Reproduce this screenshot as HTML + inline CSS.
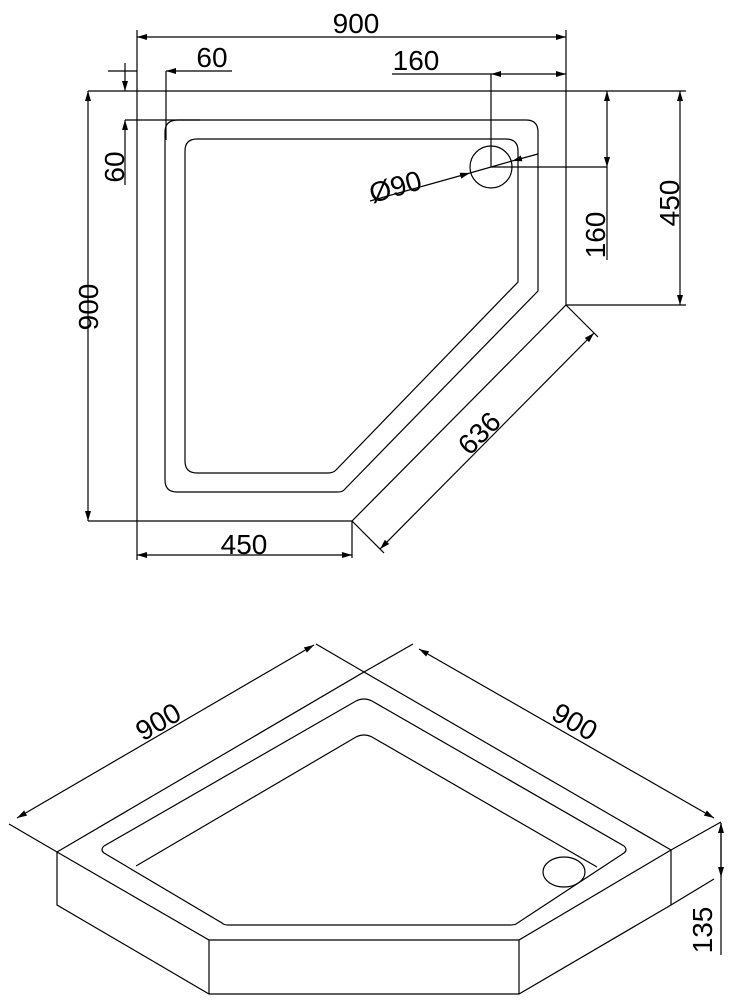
<!DOCTYPE html>
<html><head><meta charset="utf-8"><style>html,body{margin:0;padding:0;background:#fff}svg{display:block}</style></head>
<body>
<svg width="737" height="1000" viewBox="0 0 737 1000" xmlns="http://www.w3.org/2000/svg" font-family="Liberation Sans, sans-serif" font-size="28" fill="none" stroke="#000" stroke-width="1.2">
<defs>
<marker id="a" viewBox="0 0 10 6" refX="10" refY="3" markerWidth="10" markerHeight="6" orient="auto-start-reverse" markerUnits="userSpaceOnUse"><path d="M0,0 L10,3 L0,6z" fill="#000" stroke="none"/></marker>
</defs>
<!-- TOP VIEW -->
<line x1="137" y1="37" x2="566" y2="37" marker-start="url(#a)" marker-end="url(#a)"/>
<line x1="137" y1="30" x2="137" y2="560"/>
<line x1="566" y1="30" x2="566" y2="305"/>
<path d="M88 91 H686 M88 521 H352 L566 305 H686"/>
<line x1="88" y1="91" x2="88" y2="521" marker-start="url(#a)" marker-end="url(#a)"/>
<line x1="680" y1="91" x2="680" y2="305" marker-start="url(#a)" marker-end="url(#a)"/>
<!-- 60 dims -->
<line x1="232" y1="71" x2="166" y2="71" marker-end="url(#a)"/>
<line x1="108" y1="71" x2="137" y2="71"/>
<line x1="166" y1="71" x2="166" y2="140"/>
<line x1="125" y1="63" x2="125" y2="91" marker-end="url(#a)"/>
<line x1="125" y1="185" x2="125" y2="120" marker-end="url(#a)"/>
<line x1="125" y1="120" x2="200" y2="120"/>
<!-- rim -->
<path d="M178 120 H526 Q538 120 538 132 V291 L344 490 Q342 492 338 492 H177 Q165 492 165 480 V132 Q165 120 178 120Z"/>
<path d="M197 139 H506 Q518 139 518 151 V282 L336 470 Q333 473 328 473 H197 Q185 473 185 461 V151 Q185 139 197 139Z"/>
<ellipse cx="491" cy="167" rx="21" ry="21"/>
<!-- 160 dims -->
<line x1="491" y1="74" x2="491" y2="167"/>
<line x1="491" y1="167" x2="607" y2="167"/>
<line x1="392" y1="74" x2="491" y2="74"/>
<line x1="491" y1="74" x2="566" y2="74" marker-start="url(#a)" marker-end="url(#a)"/>
<line x1="607" y1="91" x2="607" y2="167" marker-start="url(#a)" marker-end="url(#a)"/>
<line x1="607" y1="167" x2="607" y2="260"/>
<!-- Ø90 -->
<line x1="370" y1="201" x2="470" y2="173" marker-end="url(#a)"/>
<line x1="538" y1="154" x2="512" y2="161" marker-end="url(#a)"/>
<line x1="470" y1="173" x2="512" y2="161"/>
<!-- 450 bottom -->
<line x1="352" y1="521" x2="352" y2="558"/>
<line x1="137" y1="555" x2="352" y2="555" marker-start="url(#a)" marker-end="url(#a)"/>
<!-- 636 -->
<line x1="566" y1="305" x2="598" y2="337"/>
<line x1="352" y1="521" x2="384" y2="553"/>
<line x1="594" y1="333" x2="380" y2="549" marker-start="url(#a)" marker-end="url(#a)"/>
<g fill="#000" stroke="none">
<text x="356" y="33" text-anchor="middle">900</text>
<text x="212" y="67" text-anchor="middle">60</text>
<text x="416" y="70" text-anchor="middle">160</text>
<text transform="translate(124,167) rotate(-90)" text-anchor="middle">60</text>
<text transform="translate(98,307) rotate(-90)" text-anchor="middle">900</text>
<text transform="translate(679,203) rotate(-90)" text-anchor="middle">450</text>
<text transform="translate(605,235) rotate(-90)" text-anchor="middle">160</text>
<text transform="translate(398,196) rotate(-16)" text-anchor="middle">Ø90</text>
<text x="244" y="554" text-anchor="middle">450</text>
<text transform="translate(486,440) rotate(-45)" text-anchor="middle">636</text>
</g>
<!-- ISO VIEW -->
<path d="M57 852 L364 672 L671 850 M57 852 V905 L209 994 H519 L671 905 V850 M57 852 L209 940 H519 L671 850 M209 940 V994 M519 940 V994"/>
<path d="M364 672 L316 644 M364 672 L413 644 M57 852 L9 824 M671 850 L721 822 M671 905 L714 879"/>
<line x1="17" y1="818" x2="314" y2="645" marker-start="url(#a)" marker-end="url(#a)"/>
<line x1="419" y1="649" x2="714" y2="818" marker-start="url(#a)" marker-end="url(#a)"/>
<line x1="721" y1="823" x2="721" y2="955"/>
<line x1="721" y1="850" x2="721" y2="823" marker-end="url(#a)"/>
<line x1="721" y1="850" x2="721" y2="877" marker-end="url(#a)"/>
<path d="M356 701 Q364 697 372 701 L624 846 Q628 850 624 853 L516 924 Q514 925 510 925 H228 Q224 925 222 923 L104 853 Q100 850 104 846 Z"/>
<path d="M136 866 L356 737 Q364 733 372 737 L597 867"/>
<ellipse cx="564" cy="872" rx="21" ry="15"/>
<g fill="#000" stroke="none">
<text transform="translate(163,730) rotate(-30)" text-anchor="middle">900</text>
<text transform="translate(570,730) rotate(30)" text-anchor="middle">900</text>
<text transform="translate(712,930) rotate(-90)" text-anchor="middle">135</text>
</g>
</svg>
</body></html>
